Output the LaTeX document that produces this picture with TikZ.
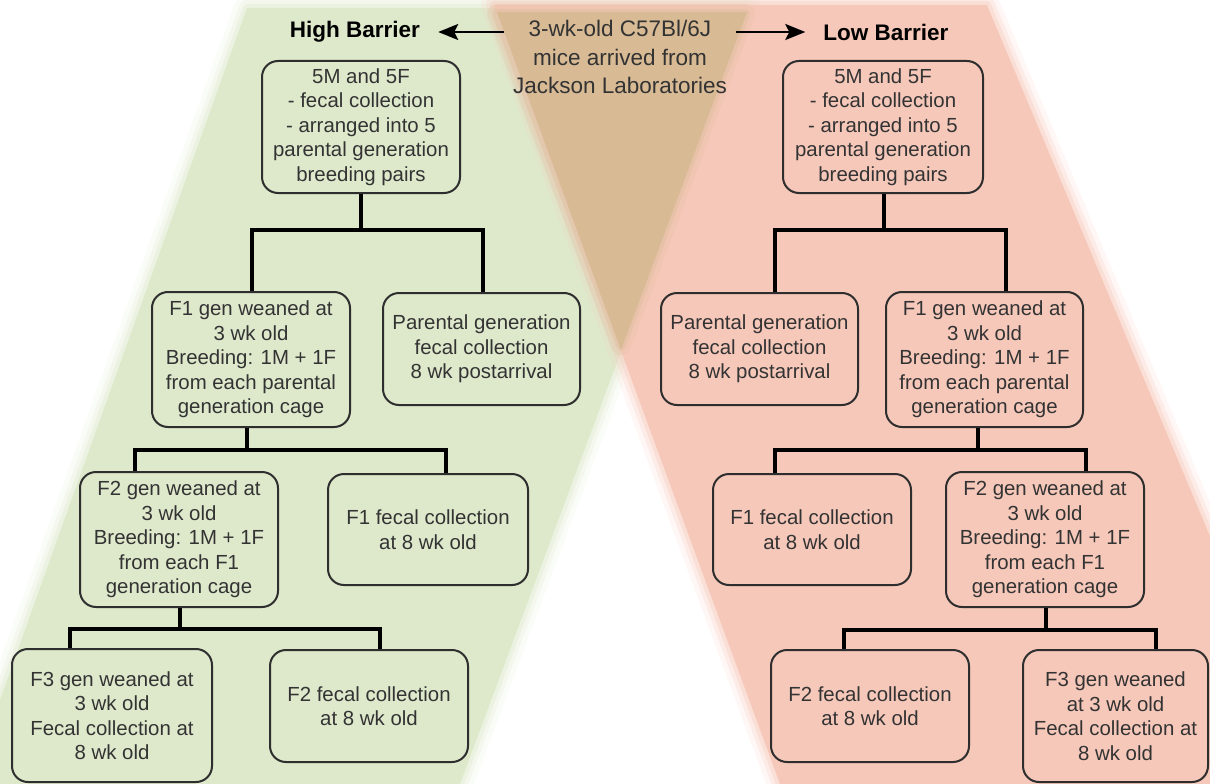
\documentclass[tikz,border=0pt]{standalone}
\usepackage{fontspec}
\setmainfont{Liberation Sans}
\usetikzlibrary{arrows.meta}
\definecolor{bggreen}{HTML}{DEE9CC}
\definecolor{bgpink}{HTML}{F6C8BA}
\definecolor{bgtan}{HTML}{D8BA95}
\definecolor{boxline}{HTML}{2E2E2E}
\definecolor{txt}{HTML}{333333}
\begin{document}
\begin{tikzpicture}[x=1pt,y=-1pt,
  box/.style={draw=boxline, line width=2pt, rounded corners=16pt, align=center,
    text=txt, font=\fontsize{20.4}{24.5}\selectfont, inner sep=0pt},
  conn/.style={draw=black, line width=3.6pt},
  hdr/.style={font=\fontsize{22.5}{27}\selectfont\bfseries, text=black,
    inner xsep=18pt, inner ysep=0pt},
  mid/.style={font=\fontsize{22.5}{28.5}\selectfont, text=txt, align=center,
    inner xsep=8.5pt, inner ysep=0pt},
  arr/.style={draw=black, line width=2.2pt, -{Stealth[length=20pt,width=16pt,inset=4pt]}},
  soft/.style={line join=round, draw opacity=#1}]
\useasboundingbox (0,0) rectangle (1210,784);
% backgrounds with soft fringes
\foreach \w/\o in {26/0.15,16/0.25,8/0.35}{
  \draw[bggreen, soft=\o, line width=\w] (247,8) -- (749,8) -- (460,784) -- (-30,784) -- cycle;}
\fill[bggreen] (247,8) -- (749,8) -- (460,784) -- (-30,784) -- cycle;
\foreach \w/\o in {26/0.15,16/0.25,8/0.35}{
  \draw[bgpink, soft=\o, line width=\w] (494,5) -- (987,5) -- (1314,784) -- (780,784) -- cycle;}
\fill[bgpink] (494,5) -- (987,5) -- (1314,784) -- (780,784) -- cycle;
\foreach \w/\o in {20/0.2,10/0.3}{
  \draw[bgtan, soft=\o, line width=\w] (497,14) -- (745,14) -- (621,345) -- cycle;}
\fill[bgtan] (497,12) -- (747,12) -- (621,350) -- cycle;

% headers
\node[hdr] (HB) at (355,32) {High Barrier};
\node[hdr] (LB) at (886,32) {Low Barrier};
\node[mid] (C) at (620,57) {3-wk-old C57Bl/6J\\mice arrived from\\Jackson Laboratories};
\draw[arr] (C.west |- HB) -- (HB.east);
\draw[arr] (C.east |- LB) -- (LB.west);

% left boxes
\node[box, minimum width=198, minimum height=132] (TL) at (361,127)
  {5M and 5F\\- fecal collection\\- arranged into 5\\parental generation\\breeding pairs};
\node[box, minimum width=198, minimum height=135] (F1L) at (251,359.5)
  {F1 gen weaned at\\3 wk old\\Breeding: 1M + 1F\\from each parental\\generation cage};
\node[box, minimum width=197, minimum height=112] (PL) at (481.5,349)
  {Parental generation\\fecal collection\\8 wk postarrival};
\node[box, minimum width=198, minimum height=135] (F2L) at (179,539.5)
  {F2 gen weaned at\\3 wk old\\Breeding: 1M + 1F\\from each F1\\generation cage};
\node[box, minimum width=200, minimum height=111] (F1fL) at (428,529.5)
  {F1 fecal collection\\at 8 wk old};
\node[box, minimum width=200, minimum height=133] (F3L) at (112,715.5)
  {F3 gen weaned at\\3 wk old\\Fecal collection at\\8 wk old};
\node[box, minimum width=198, minimum height=112] (F2fL) at (369,706)
  {F2 fecal collection\\at 8 wk old};

% right boxes
\node[box, minimum width=200, minimum height=132] (TR) at (883,127)
  {5M and 5F\\- fecal collection\\- arranged into 5\\parental generation\\breeding pairs};
\node[box, minimum width=197, minimum height=112] (PR) at (759.5,349)
  {Parental generation\\fecal collection\\8 wk postarrival};
\node[box, minimum width=197, minimum height=135] (F1R) at (984.5,359.5)
  {F1 gen weaned at\\3 wk old\\Breeding: 1M + 1F\\from each parental\\generation cage};
\node[box, minimum width=198, minimum height=111] (F1fR) at (812,529.5)
  {F1 fecal collection\\at 8 wk old};
\node[box, minimum width=198, minimum height=135] (F2R) at (1045,539.5)
  {F2 gen weaned at\\3 wk old\\Breeding: 1M + 1F\\from each F1\\generation cage};
\node[box, minimum width=198, minimum height=112] (F2fR) at (870,706)
  {F2 fecal collection\\at 8 wk old};
\node[box, minimum width=185, minimum height=132] (F3R) at (1115.5,716)
  {F3 gen weaned\\at 3 wk old\\Fecal collection at\\8 wk old};

% junction coordinates
\coordinate (J1L) at (361,230); \coordinate (A1L) at (252,230); \coordinate (B1L) at (483,230);
\coordinate (J2L) at (247,450); \coordinate (A2L) at (135,450); \coordinate (B2L) at (446,450);
\coordinate (J3L) at (180,629); \coordinate (A3L) at (70,629);  \coordinate (B3L) at (380,629);
\coordinate (J1R) at (884,230); \coordinate (A1R) at (775,230); \coordinate (B1R) at (1006,230);
\coordinate (J2R) at (978,450); \coordinate (A2R) at (775,450); \coordinate (B2R) at (1086,450);
\coordinate (J3R) at (1046,630);\coordinate (A3R) at (844,630); \coordinate (B3R) at (1156,630);

% connectors left
\draw[conn] (J1L |- TL.south) -- (J1L);
\draw[conn] (A1L |- F1L.north) -- (A1L) -- (B1L) -- (B1L |- PL.north);
\draw[conn] (J2L |- F1L.south) -- (J2L);
\draw[conn] (A2L |- F2L.north) -- (A2L) -- (B2L) -- (B2L |- F1fL.north);
\draw[conn] (J3L |- F2L.south) -- (J3L);
\draw[conn] (A3L |- F3L.north) -- (A3L) -- (B3L) -- (B3L |- F2fL.north);
% connectors right
\draw[conn] (J1R |- TR.south) -- (J1R);
\draw[conn] (A1R |- PR.north) -- (A1R) -- (B1R) -- (B1R |- F1R.north);
\draw[conn] (J2R |- F1R.south) -- (J2R);
\draw[conn] (A2R |- F1fR.north) -- (A2R) -- (B2R) -- (B2R |- F2R.north);
\draw[conn] (J3R |- F2R.south) -- (J3R);
\draw[conn] (A3R |- F2fR.north) -- (A3R) -- (B3R) -- (B3R |- F3R.north);
\end{tikzpicture}
\end{document}
